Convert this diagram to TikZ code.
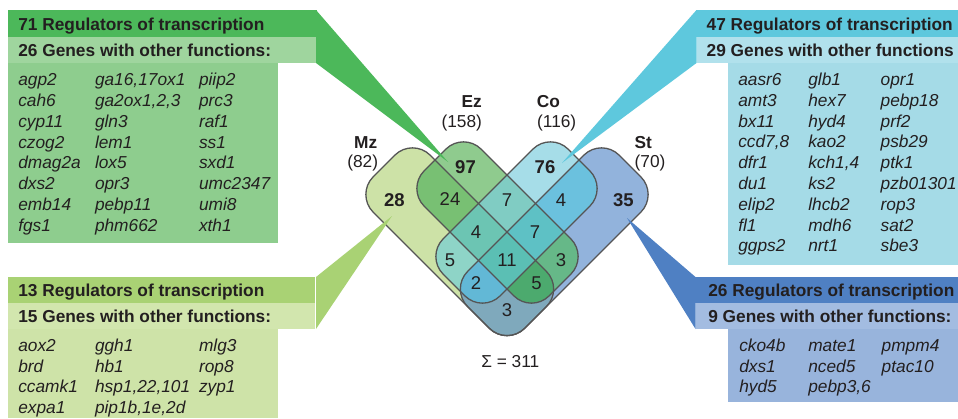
\documentclass[tikz,border=0pt]{standalone}
\usepackage{fontspec}
\setmainfont{Liberation Sans}
% box colours
\definecolor{tlH}{HTML}{4CB85A}
\definecolor{tlB}{HTML}{9FD59E}
\definecolor{tlX}{HTML}{8ECD8E}
\definecolor{trH}{HTML}{5EC8DD}
\definecolor{trB}{HTML}{B1E1EC}
\definecolor{trX}{HTML}{A5DBE7}
\definecolor{blH}{HTML}{A9D274}
\definecolor{blB}{HTML}{D2E6AE}
\definecolor{blX}{HTML}{CEE3A8}
\definecolor{brH}{HTML}{4F80C3}
\definecolor{brB}{HTML}{A3BCE1}
\definecolor{brX}{HTML}{98B4DC}
% venn region colours
\definecolor{rM}{HTML}{CDE2A7}
\definecolor{rE}{HTML}{8FCB8E}
\definecolor{rC}{HTML}{A6DDE8}
\definecolor{rS}{HTML}{92B3DC}
\definecolor{rME}{HTML}{78C073}
\definecolor{rMC}{HTML}{8ED4C7}
\definecolor{rMS}{HTML}{7FA9BC}
\definecolor{rEC}{HTML}{80CCC3}
\definecolor{rES}{HTML}{66B888}
\definecolor{rCS}{HTML}{6BC1DE}
\definecolor{rMEC}{HTML}{6CC5B3}
\definecolor{rMES}{HTML}{4CAA6E}
\definecolor{rMCS}{HTML}{62B8D6}
\definecolor{rECS}{HTML}{5EC1C5}
\definecolor{rAll}{HTML}{5BBFB4}
\definecolor{outc}{HTML}{555555}
\definecolor{txt}{HTML}{231F20}
% venn shapes (start and end at the middle of a straight side)
\newcommand\pMz[1]{\path[#1,rounded corners=25pt] (384,166) -- (355.5,194.5) -- (507,346) -- (564,289) -- (412.5,137.5) -- (384,166);}
\newcommand\pEz[1]{\path[#1,rounded corners=25pt] (435,160) -- (406.5,188.5) -- (531.5,313.5) -- (588.5,256.5) -- (463.5,131.5) -- (435,160);}
\newcommand\pCo[1]{\path[#1,rounded corners=25pt] (579,160) -- (607.5,188.5) -- (482.5,313.5) -- (425.5,256.5) -- (550.5,131.5) -- (579,160);}
\newcommand\pSt[1]{\path[#1,rounded corners=25pt] (630,166) -- (658.5,194.5) -- (507,346) -- (450,289) -- (601.5,137.5) -- (630,166);}
\newcommand\vreg[2]{\begin{scope}#1\fill[#2] (330,100) rectangle (690,360);\end{scope}}
\begin{document}
\begin{tikzpicture}[x=1pt,y=-1pt,
  every node/.style={inner sep=0pt,outer sep=0pt,text=txt},
  outl/.style={draw=outc,line width=1.3pt,line join=round},
  gene/.style={font=\fontsize{17.3}{20}\selectfont\itshape,anchor=base west},
  hd/.style={font=\fontsize{17.3}{20}\selectfont\bfseries,anchor=base west},
  num/.style={font=\fontsize{17.3}{20}\selectfont},
  rnum/.style={font=\fontsize{18.5}{20}\selectfont},
  bnum/.style={font=\fontsize{18.5}{20}\selectfont\bfseries},
  blab/.style={font=\fontsize{17.3}{20}\selectfont\bfseries}]
\useasboundingbox (0,0) rectangle (958,418);
% ---------- Venn regions ----------
\vreg{\pMz{clip}}{rM}
\vreg{\pEz{clip}}{rE}
\vreg{\pCo{clip}}{rC}
\vreg{\pSt{clip}}{rS}
\vreg{\pMz{clip}\pEz{clip}}{rME}
\vreg{\pMz{clip}\pCo{clip}}{rMC}
\vreg{\pMz{clip}\pSt{clip}}{rMS}
\vreg{\pEz{clip}\pCo{clip}}{rEC}
\vreg{\pEz{clip}\pSt{clip}}{rES}
\vreg{\pCo{clip}\pSt{clip}}{rCS}
\vreg{\pMz{clip}\pEz{clip}\pCo{clip}}{rMEC}
\vreg{\pMz{clip}\pEz{clip}\pSt{clip}}{rMES}
\vreg{\pMz{clip}\pCo{clip}\pSt{clip}}{rMCS}
\vreg{\pEz{clip}\pCo{clip}\pSt{clip}}{rECS}
\vreg{\pMz{clip}\pEz{clip}\pCo{clip}\pSt{clip}}{rAll}
\pMz{outl}
\pEz{outl}
\pCo{outl}
\pSt{outl}
% ---------- region labels ----------
\node[bnum] (n28) at (394.3,200) {28};
\node[bnum] (n97) at (465.5,166.7) {97};
\node[bnum] (n76) at (545,166.7) {76};
\node[bnum] (n35) at (623.3,200) {35};
\node[rnum] (n24) at (450,199) {24};
\node[rnum] (n7a) at (507,200) {7};
\node[rnum] (n4a) at (561,200) {4};
\node[rnum] (n4b) at (476,231.7) {4};
\node[rnum] (n7b) at (535,231.7) {7};
\node[rnum] (n5a) at (450,260) {5};
\node[rnum] (n11) at (507,260) {11};
\node[rnum] (n3a) at (561,260) {3};
\node[rnum] (n2) at (476,283.3) {2};
\node[rnum] (n5b) at (536.5,283.3) {5};
\node[rnum] (n3b) at (507,310) {3};
\node[num] (sum) at (510.3,361.7) {Σ = 311};
% set labels
\node[blab] (lMz) at (365.7,142.7) {Mz};
\node[num] (cMz) at (362.7,163.3) {(82)};
\node[blab] (lEz) at (471.7,101.7) {Ez};
\node[num] (cEz) at (461.7,123.3) {(158)};
\node[blab] (lCo) at (548.3,101.7) {Co};
\node[num] (cCo) at (556.7,123.3) {(116)};
\node[blab] (lSt) at (643.3,142.7) {St};
\node[num] (cSt) at (650,163.3) {(70)};
% ---------- callout boxes ----------
% top left
\fill[tlX] (8,63) rectangle (278,243);
\fill[tlH] (8,10) rectangle (316.5,37);
\fill[tlB] (8,37) rectangle (316,63);
\fill[tlH] (316,10) -- (448,162) -- (316,63) -- cycle;
% top right
\fill[trX] (728,63) rectangle (958,265);
\fill[trH] (696,10) rectangle (958,37);
\fill[trB] (697,37) rectangle (958,63);
\fill[trH] (696.5,10) -- (562,163) -- (696.5,63) -- cycle;
% bottom left
\fill[blX] (8,329) rectangle (278,418);
\fill[blH] (8,277) rectangle (315,303);
\fill[blB] (8,303) rectangle (315,329);
\fill[blH] (316,277) -- (392,216) -- (316,329) -- cycle;
% bottom right
\fill[brX] (728,329) rectangle (958,402);
\fill[brH] (695,277) rectangle (958,303);
\fill[brB] (696,303) rectangle (958,329);
\fill[brH] (695.5,277) -- (627,218) -- (695.5,329) -- cycle;
% ---------- box texts ----------
\node[hd] (tlh1) at (18.3,30) {71 Regulators of transcription};
\node[hd] (tlh2) at (18.3,56) {26 Genes with other functions:};
\foreach \g [count=\i from 0] in {agp2,cah6,cyp11,czog2,dmag2a,dxs2,emb14,fgs1}
  \node[gene] (tla\i) at (18.3,{85.5+20.85*\i}) {\g};
\foreach \g [count=\i from 0] in {{ga16,17ox1},{ga2ox1,2,3},gln3,lem1,lox5,opr3,pebp11,phm662}
  \node[gene] (tlb\i) at (95,{85.5+20.85*\i}) {\g};
\foreach \g [count=\i from 0] in {piip2,prc3,raf1,ss1,sxd1,umc2347,umi8,xth1}
  \node[gene] (tlc\i) at (199,{85.5+20.85*\i}) {\g};
\node[hd] (trh1) at (706.7,30) {47 Regulators of transcription};
\node[hd] (trh2) at (706.7,56) {29 Genes with other functions};
\foreach \g [count=\i from 0] in {aasr6,amt3,bx11,{ccd7,8},dfr1,du1,elip2,fl1,ggps2}
  \node[gene] (tra\i) at (738.3,{85.5+20.8*\i}) {\g};
\foreach \g [count=\i from 0] in {glb1,hex7,hyd4,kao2,{kch1,4},ks2,lhcb2,mdh6,nrt1}
  \node[gene] (trb\i) at (808.3,{85.5+20.8*\i}) {\g};
\foreach \g [count=\i from 0] in {opr1,pebp18,prf2,psb29,ptk1,pzb01301,rop3,sat2,sbe3}
  \node[gene] (trc\i) at (880.7,{85.5+20.8*\i}) {\g};
\node[hd] (blh1) at (18.3,296.3) {13 Regulators of transcription};
\node[hd] (blh2) at (18.3,322.3) {15 Genes with other functions:};
\foreach \g [count=\i from 0] in {aox2,brd,ccamk1,expa1}
  \node[gene] (bla\i) at (18.3,{351.5+20.5*\i}) {\g};
\foreach \g [count=\i from 0] in {ggh1,hb1,{hsp1,22,101},{pip1b,1e,2d}}
  \node[gene] (blb\i) at (95,{351.5+20.5*\i}) {\g};
\foreach \g [count=\i from 0] in {mlg3,rop8,zyp1}
  \node[gene] (blc\i) at (199,{351.5+20.5*\i}) {\g};
\node[hd] (brh1) at (708.3,296.3) {26 Regulators of transcription};
\node[hd] (brh2) at (708.3,322.3) {9 Genes with other functions:};
\foreach \g [count=\i from 0] in {cko4b,dxs1,hyd5}
  \node[gene] (bra\i) at (739.3,{351.5+20.5*\i}) {\g};
\foreach \g [count=\i from 0] in {mate1,nced5,{pebp3,6}}
  \node[gene] (brb\i) at (808.3,{351.5+20.5*\i}) {\g};
\foreach \g [count=\i from 0] in {pmpm4,ptac10}
  \node[gene] (brc\i) at (881.7,{351.5+20.5*\i}) {\g};
\end{tikzpicture}
\end{document}
